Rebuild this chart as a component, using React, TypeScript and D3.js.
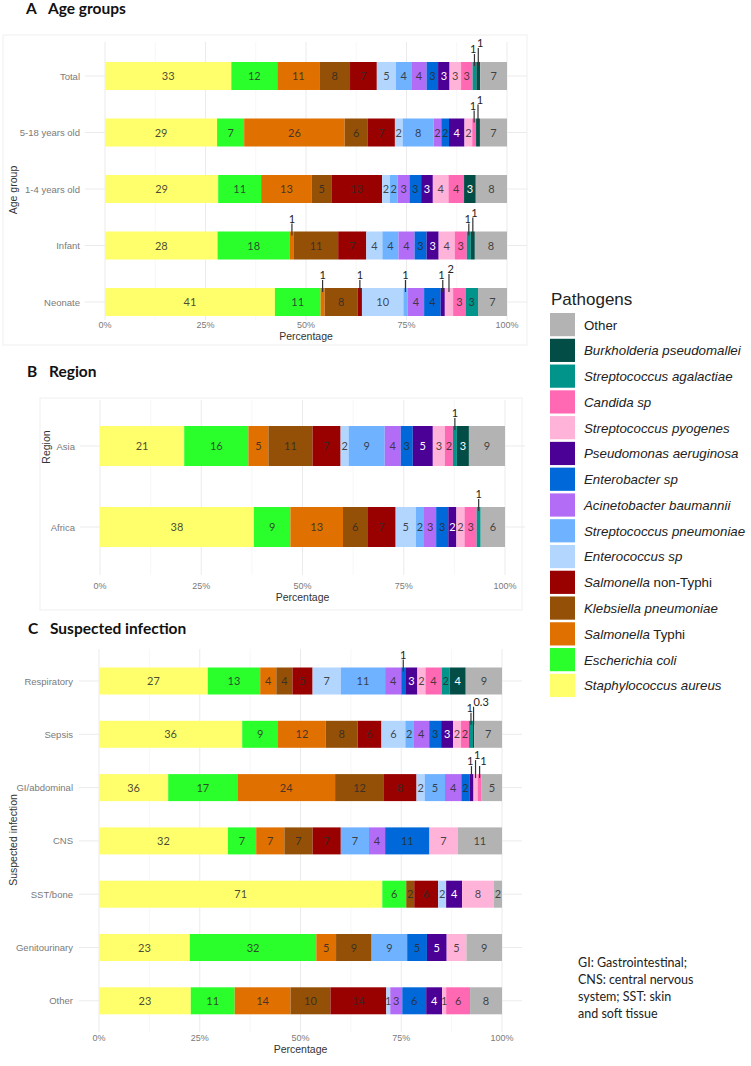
import React from "react";
import * as d3 from "d3";

// stacking order, left to right
const pathogens = [
  "Staphylococcus aureus",
  "Escherichia coli",
  "Salmonella Typhi",
  "Klebsiella pneumoniae",
  "Salmonella non-Typhi",
  "Enterococcus sp",
  "Streptococcus pneumoniae",
  "Acinetobacter baumannii",
  "Enterobacter sp",
  "Pseudomonas aeruginosa",
  "Streptococcus pyogenes",
  "Candida sp",
  "Streptococcus agalactiae",
  "Burkholderia pseudomallei",
  "Other",
];

const pathogenColors = [
  "#ffff6b",
  "#2bff2b",
  "#e07000",
  "#935006",
  "#990000",
  "#b3d6ff",
  "#6fb2ff",
  "#b36cf5",
  "#0068d9",
  "#4b0096",
  "#ffb3d9",
  "#ff69b4",
  "#00948a",
  "#034d47",
  "#b3b3b3",
];

// labels drawn in white
const whiteLabels = ["Pseudomonas aeruginosa", "Burkholderia pseudomallei"];

// A: age groups (percent, same order as pathogens)
const ageGroups = ["Total", "5-18 years old", "1-4 years old", "Infant", "Neonate"];
const ageValues = [
  [33, 12, 11, 8, 7, 5, 4, 4, 3, 3, 3, 3, 1, 1, 7],
  [29, 7, 26, 6, 7, 2, 8, 2, 2, 4, 2, 1, 0, 1, 7],
  [29, 11, 13, 5, 13, 2, 2, 3, 3, 3, 4, 4, 0, 3, 8],
  [28, 18, 1, 11, 7, 4, 4, 4, 3, 3, 4, 3, 1, 1, 8],
  [41, 11, 1, 8, 1, 10, 1, 4, 4, 1, 2, 3, 3, 0, 7],
];
const ageCallouts = [
  ["Total", "Streptococcus agalactiae"],
  ["Total", "Burkholderia pseudomallei"],
  ["5-18 years old", "Candida sp"],
  ["5-18 years old", "Burkholderia pseudomallei"],
  ["Infant", "Salmonella Typhi"],
  ["Infant", "Streptococcus agalactiae"],
  ["Infant", "Burkholderia pseudomallei"],
  ["Neonate", "Salmonella Typhi"],
  ["Neonate", "Salmonella non-Typhi"],
  ["Neonate", "Streptococcus pneumoniae"],
  ["Neonate", "Pseudomonas aeruginosa"],
  ["Neonate", "Streptococcus pyogenes"],
];

// B: region
const regions = ["Asia", "Africa"];
const regionValues = [
  [21, 16, 5, 11, 7, 2, 9, 4, 3, 5, 3, 2, 1, 3, 9],
  [38, 9, 13, 6, 7, 5, 2, 3, 3, 2, 2, 3, 1, 0, 6],
];
const regionCallouts = [
  ["Asia", "Streptococcus agalactiae"],
  ["Africa", "Streptococcus agalactiae"],
];

// C: suspected infection
const infections = ["Respiratory", "Sepsis", "GI/abdominal", "CNS", "SST/bone", "Genitourinary", "Other"];
const infectionValues = [
  [27, 13, 4, 4, 5, 7, 11, 4, 1, 3, 2, 4, 2, 4, 9],
  [36, 9, 12, 8, 6, 6, 2, 4, 3, 3, 2, 2, 1, 0.3, 7],
  [17, 17, 24, 12, 8, 2, 5, 4, 2, 1, 1, 1, 0, 0, 5],
  [32, 7, 7, 7, 7, 0, 7, 4, 11, 0, 7, 0, 0, 0, 11],
  [71, 6, 0, 2, 6, 2, 0, 0, 0, 4, 8, 0, 0, 0, 2],
  [23, 32, 5, 9, 0, 0, 9, 0, 5, 5, 5, 0, 0, 0, 9],
  [23, 11, 14, 10, 14, 1, 0, 3, 6, 4, 1, 6, 0, 0, 8],
];
const infectionCallouts = [
  ["Respiratory", "Enterobacter sp"],
  ["Sepsis", "Streptococcus agalactiae"],
  ["Sepsis", "Burkholderia pseudomallei"],
  ["GI/abdominal", "Pseudomonas aeruginosa"],
  ["GI/abdominal", "Streptococcus pyogenes"],
  ["GI/abdominal", "Candida sp"],
];
// the printed label in the source differs from the bar width here
const labelOverrides: Record<string, string> = {
  "GI/abdominal|Staphylococcus aureus": "36",
};

const tickValues = [0, 0.25, 0.5, 0.75, 1];
const minorTicks = [0.125, 0.375, 0.625, 0.875];

const footnote = ["GI: Gastrointestinal;", "CNS: central nervous", "system; SST: skin", "and soft tissue"];

const axisFont = "'Liberation Sans', Arial, sans-serif";
const calibriLike = "Lato, 'Open Sans', sans-serif";

type PanelProps = {
  letter: string;
  title: string;
  titleY: number;
  titleX: number;
  categories: string[];
  values: number[][];
  callouts: string[][];
  yTitle: string;
  yTitleX: number;
  yTitleY: number;
  x0: number;
  x1: number;
  firstCenter: number;
  step: number;
  barH: number;
  gridTop: number;
  gridBottom: number;
  tickY: number;
  axisTitleY: number;
  catLabelX: number;
};

const Panel = (p: PanelProps) => {
  const x = d3.scaleLinear().domain([0, 1]).range([p.x0, p.x1]);
  const y = d3
    .scalePoint<string>()
    .domain(p.categories)
    .range([p.firstCenter, p.firstCenter + p.step * (p.categories.length - 1)]);

  const rows = p.categories.map((c, i) => {
    const r: any = { cat: c };
    pathogens.forEach((k, j) => (r[k] = p.values[i][j]));
    return r;
  });
  const series = d3.stack<any>().keys(pathogens).offset(d3.stackOffsetExpand)(rows);

  const left = x(-0.05);
  const right = x(1.05);

  const labels: React.ReactNode[] = [];
  p.categories.forEach((cat, i) => {
    const top = (y(cat) as number) - p.barH / 2;
    const calls = p.callouts.filter((c) => c[0] === cat);

    // callouts above the bar; close neighbours get nudged apart
    const pts = series
      .map((s, j) => ({ key: s.key as string, v: p.values[i][j], xc: (x(s[i][0]) + x(s[i][1])) / 2 }))
      .filter((d) => d.v && calls.some((c) => c[1] === d.key));
    let prevLevel = 0;
    let prevEnd = -100;
    pts.forEach((d, k) => {
      const text = labelOverrides[cat + "|" + d.key] ?? String(d.v);
      const w = text.length * 5.6;
      const closePrev = k > 0 && d.xc - pts[k - 1].xc < 9;
      const closeNext = k < pts.length - 1 && pts[k + 1].xc - d.xc < 9;
      let level = 0;
      let anchor = "middle";
      let tx = d.xc;
      let end = d.xc + w / 2;
      if (closePrev) {
        level = prevLevel === 0 ? 1 : 0;
        anchor = "start";
        tx = Math.max(d.xc - 1.5, prevEnd + 0.5);
        end = tx + w;
      } else if (closeNext) {
        anchor = "end";
        tx = d.xc + 2;
        end = tx;
      }
      prevLevel = level;
      prevEnd = end;
      labels.push(
        <g key={cat + d.key + "c"}>
          <line x1={d.xc} x2={d.xc} y1={top - 8 - level * 6} y2={top + 4} stroke="#333" strokeWidth={1.2} />
          <text x={tx} y={top - 9 - level * 6} textAnchor={anchor} fontSize={11} fill="#222" fontFamily={calibriLike}>
            {text}
          </text>
        </g>
      );
    });

    series.forEach((s, j) => {
      const v = p.values[i][j];
      if (!v) return;
      if (calls.some((c) => c[1] === s.key)) return;
      const [a, b] = s[i];
      const xc = (x(a) + x(b)) / 2;
      const key = cat + "|" + s.key;
      const text = labelOverrides[key] ?? String(v);
      const white = whiteLabels.includes(s.key as string);
      labels.push(
        <text
          key={key}
          x={xc}
          y={(y(cat) as number) + 4}
          textAnchor="middle"
          fontSize={11}
          fontFamily={calibriLike}
          fill={white ? "#fff" : "#2b2b2b"}
          fillOpacity={white ? 1 : 0.85}
        >
          {text}
        </text>
      );
    });
  });

  return (
    <g>
      <text x={p.titleX} y={p.titleY} fontFamily={calibriLike} fontWeight="bold" fontSize={15.5} fill="#111">
        {p.letter}
      </text>
      <text x={p.titleX + 22} y={p.titleY} fontFamily={calibriLike} fontWeight="bold" fontSize={15.5} fill="#111">
        {p.title}
      </text>
      {/* grid */}
      {minorTicks.map((t) => (
        <line key={"m" + t} x1={x(t)} x2={x(t)} y1={p.gridTop} y2={p.gridBottom} stroke="#f4f4f4" strokeWidth={0.7} />
      ))}
      {tickValues.map((t) => (
        <line key={"g" + t} x1={x(t)} x2={x(t)} y1={p.gridTop} y2={p.gridBottom} stroke="#ebebeb" strokeWidth={1} />
      ))}
      {p.categories.map((c) => (
        <line key={"h" + c} x1={left} x2={right} y1={y(c)} y2={y(c)} stroke="#ebebeb" strokeWidth={1} />
      ))}
      {/* bars */}
      {series.map((s, j) =>
        s.map((d, i) =>
          p.values[i][j] ? (
            <rect
              key={s.key + i}
              x={x(d[0])}
              width={x(d[1]) - x(d[0])}
              y={(y(p.categories[i]) as number) - p.barH / 2}
              height={p.barH}
              fill={pathogenColors[j]}
            />
          ) : null
        )
      )}
      {labels}
      {/* axes text */}
      {p.categories.map((c) => (
        <text key={"yl" + c} x={p.catLabelX} y={(y(c) as number) + 3.5} textAnchor="end" fontSize={9.5} fill="#7a7a7a" fontFamily={axisFont}>
          {c}
        </text>
      ))}
      {tickValues.map((t) => (
        <text key={"tl" + t} x={x(t)} y={p.tickY} textAnchor="middle" fontSize={9} fill="#7a7a7a" fontFamily={axisFont}>
          {d3.format(".0%")(t)}
        </text>
      ))}
      <text x={(p.x0 + p.x1) / 2} y={p.axisTitleY} textAnchor="middle" fontSize={10.5} fill="#333" fontFamily={axisFont}>
        Percentage
      </text>
      <text
        transform={`translate(${p.yTitleX},${p.yTitleY}) rotate(-90)`}
        textAnchor="middle"
        fontSize={10.5}
        fill="#333"
        fontFamily={axisFont}
        dominantBaseline="middle"
      >
        {p.yTitle}
      </text>
    </g>
  );
};

const legendLabel = (name: string) => {
  if (name === "Other") return <tspan>{name}</tspan>;
  if (name.startsWith("Salmonella")) {
    return (
      <>
        <tspan fontStyle="italic">Salmonella</tspan>
        <tspan>{name.slice("Salmonella".length)}</tspan>
      </>
    );
  }
  return <tspan fontStyle="italic">{name}</tspan>;
};

const Legend = () => {
  const items = pathogens.map((p, i) => ({ name: p, color: pathogenColors[i] })).reverse();
  const yPos = d3
    .scaleBand<string>()
    .domain(items.map((d) => d.name))
    .range([313, 313 + 25.6 * items.length])
    .paddingInner(0.1);
  return (
    <g>
      <text x={551} y={305} fontSize={17} fill="#222" fontFamily={axisFont}>
        Pathogens
      </text>
      {items.map((d) => (
        <g key={d.name}>
          <rect x={550} y={yPos(d.name)} width={25} height={yPos.bandwidth()} fill={d.color} />
          <text x={584} y={(yPos(d.name) as number) + 16.5} fontSize={13.3} fill="#222" fontFamily={axisFont}>
            {legendLabel(d.name)}
          </text>
        </g>
      ))}
    </g>
  );
};

export default function App() {
  return (
    <svg
      width={751}
      height={1066}
      style={{ position: "absolute", left: 0, top: 0, background: "#fff" }}
    >
      <rect x={3} y={35} width={524} height={310} fill="none" stroke="#efefef" />
      <rect x={40} y={398} width={482} height={212} fill="none" stroke="#efefef" />
      <Panel
        letter="A"
        title="Age groups"
        titleX={26}
        titleY={14}
        categories={ageGroups}
        values={ageValues}
        callouts={ageCallouts}
        yTitle="Age group"
        yTitleX={14}
        yTitleY={190}
        x0={105}
        x1={507}
        firstCenter={76}
        step={56.5}
        barH={28}
        gridTop={42}
        gridBottom={320}
        tickY={328}
        axisTitleY={340}
        catLabelX={80}
      />
      <Panel
        letter="B"
        title="Region"
        titleX={27}
        titleY={377}
        categories={regions}
        values={regionValues}
        callouts={regionCallouts}
        yTitle="Region"
        yTitleX={47}
        yTitleY={447}
        x0={100}
        x1={505}
        firstCenter={446}
        step={81}
        barH={40}
        gridTop={400}
        gridBottom={575}
        tickY={589}
        axisTitleY={601}
        catLabelX={75}
      />
      <Panel
        letter="C"
        title="Suspected infection"
        titleX={28}
        titleY={634}
        categories={infections}
        values={infectionValues}
        callouts={infectionCallouts}
        yTitle="Suspected infection"
        yTitleX={14}
        yTitleY={840}
        x0={99}
        x1={502}
        firstCenter={681}
        step={53.3}
        barH={27}
        gridTop={649}
        gridBottom={1032}
        tickY={1041}
        axisTitleY={1053}
        catLabelX={73}
      />
      <Legend />
      {footnote.map((line, i) => (
        <text key={line} x={578} y={967 + i * 17} fontSize={12.5} fill="#222" fontFamily={calibriLike}>
          {line}
        </text>
      ))}
    </svg>
  );
}
